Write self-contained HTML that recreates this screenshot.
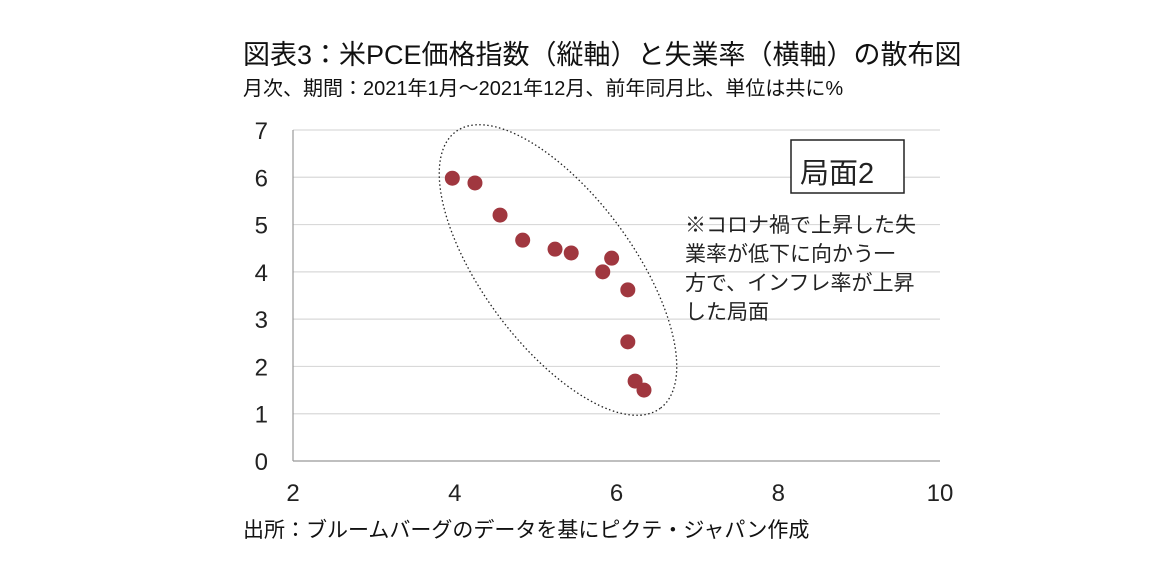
<!DOCTYPE html>
<html><head><meta charset="utf-8"><style>
body{margin:0;background:#fff;width:1152px;height:577px;overflow:hidden;font-family:"Liberation Sans","Noto Sans CJK JP",sans-serif;}
</style></head><body>
<svg width="1152" height="577" xmlns="http://www.w3.org/2000/svg" style="font-family:'Liberation Sans','Noto Sans CJK JP',sans-serif">
<text x="243" y="64" font-size="27" fill="#111">図表3：米PCE価格指数（縦軸）と失業率（横軸）の散布図</text>
<text x="243" y="95" font-size="20" fill="#111">月次、期間：2021年1月～2021年12月、前年同月比、単位は共に%</text>
<g id="grid"></g><g id="axes"></g>
<ellipse cx="558" cy="270" rx="172" ry="75" transform="rotate(53.5 558 270)" fill="none" stroke="#222" stroke-width="1.3" stroke-dasharray="1.5 2.5"/>
<g id="pts"></g>
<rect x="791" y="140" width="113" height="53" fill="#fff" stroke="#222" stroke-width="1.5"/>
<text x="800" y="183" font-size="29" fill="#222">局面2</text>
<g font-size="21" fill="#222">
<text x="685" y="232">※コロナ禍で上昇した失</text>
<text x="685" y="261">業率が低下に向かう一</text>
<text x="685" y="290">方で、インフレ率が上昇</text>
<text x="685" y="319">した局面</text></g>
<text x="243" y="537" font-size="21" fill="#111">出所：ブルームバーグのデータを基にピクテ・ジャパン作成</text>
</svg>
<script>
const xTicks=[2,4,6,8,10];
const yTicks=[0,1,2,3,4,5,6,7];
const unemployment=[3.97,4.25,4.56,4.84,5.24,5.44,5.83,5.94,6.14,6.14,6.23,6.34];
const pce=[5.98,5.88,5.2,4.67,4.48,4.4,4.0,4.29,3.62,2.52,1.69,1.5];
const X0=293,X1=940,Y0=461,Y1=130;
const sx=v=>X0+(v-2)/8*(X1-X0);
const sy=v=>Y0-(v/7)*(Y0-Y1);
const NS="http://www.w3.org/2000/svg";
function mk(t,a,p){const e=document.createElementNS(NS,t);for(const k in a)e.setAttribute(k,a[k]);p.appendChild(e);return e;}
const grid=document.getElementById('grid'),axes=document.getElementById('axes'),pts=document.getElementById('pts');
yTicks.forEach(v=>{
 const l=mk('line',{x1:X0,x2:X1,y1:sy(v),y2:sy(v),stroke:v===0?'#999':'#d9d9d9','stroke-width':1.2},grid);
 
 
 const t=mk('text',{x:X0-25,y:sy(v)+9,'font-size':24,fill:'#222','text-anchor':'end'},axes);
 t.textContent=v;
 
 
});
const va=mk('line',{x1:X0,x2:X0,y1:Y1,y2:Y0,stroke:'#999','stroke-width':1.2},axes);


xTicks.forEach(v=>{
 const t=mk('text',{x:sx(v),y:Y0+40,'font-size':24,fill:'#222','text-anchor':'middle'},axes);
 t.textContent=v;
 
 
});
unemployment.forEach((u,i)=>{
 const c=mk('circle',{cx:sx(u),cy:sy(pce[i]),r:7.5,fill:'#a0373f'},pts);
 
 
});
</script>
</body></html>
